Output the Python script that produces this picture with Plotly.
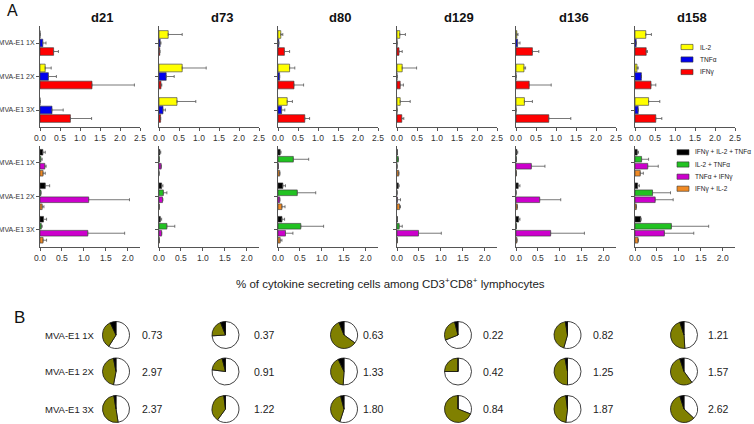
import plotly.graph_objects as go

# ---------------- data ----------------
days = ["d21", "d73", "d80", "d129", "d136", "d158"]
groups = ["MVA-E1 1X", "MVA-E1 2X", "MVA-E1 3X"]

# Panel A, top row: single-cytokine producing cells (mean, SD) per day; groups 1X, 2X, 3X
il2_mean = [[0.00, 0.13, 0.00], [0.23, 0.58, 0.45], [0.07, 0.29, 0.23],
            [0.07, 0.13, 0.08], [0.02, 0.20, 0.21], [0.27, 0.05, 0.34]]
il2_sd = [[0.00, 0.15, 0.00], [0.35, 0.60, 0.47], [0.05, 0.13, 0.13],
          [0.14, 0.36, 0.25], [0.03, 0.04, 0.20], [0.14, 0.03, 0.28]]
tnf_mean = [[0.07, 0.21, 0.30], [0.03, 0.18, 0.10], [0.02, 0.04, 0.09],
            [0.00, 0.00, 0.00], [0.04, 0.00, 0.00], [0.03, 0.16, 0.08]]
tnf_sd = [[0.08, 0.20, 0.28], [0.02, 0.20, 0.06], [0.00, 0.00, 0.08],
          [0.00, 0.00, 0.00], [0.06, 0.00, 0.00], [0.00, 0.00, 0.00]]
ifn_mean = [[0.34, 1.30, 0.76], [0.02, 0.05, 0.04], [0.16, 0.40, 0.67],
            [0.05, 0.08, 0.12], [0.41, 0.33, 0.82], [0.28, 0.40, 0.52]]
ifn_sd = [[0.12, 1.06, 0.53], [0.00, 0.02, 0.00], [0.13, 0.24, 0.12],
          [0.08, 0.08, 0.05], [0.16, 0.55, 0.55], [0.03, 0.12, 0.15]]

# Panel A, bottom row: multi-cytokine producing cells (mean, SD)
tri_mean = [[0.065, 0.12, 0.08], [0.02, 0.06, 0.03], [0.05, 0.11, 0.09],
            [0.01, 0.03, 0.01], [0.02, 0.05, 0.06], [0.05, 0.06, 0.13]]
tri_sd = [[0.055, 0.10, 0.07], [0.02, 0.03, 0.03], [0.02, 0.06, 0.06],
          [0.00, 0.02, 0.00], [0.02, 0.04, 0.03], [0.03, 0.04, 0.01]]
il2tnf_mean = [[0.02, 0.02, 0.03], [0.01, 0.10, 0.18], [0.35, 0.44, 0.52],
               [0.03, 0.00, 0.05], [0.01, 0.00, 0.01], [0.15, 0.40, 0.83]]
il2tnf_sd = [[0.03, 0.00, 0.02], [0.00, 0.08, 0.18], [0.35, 0.42, 0.52],
             [0.00, 0.00, 0.07], [0.00, 0.00, 0.00], [0.16, 0.41, 0.85]]
tnfifn_mean = [[0.11, 1.11, 1.09], [0.05, 0.08, 0.06], [0.01, 0.04, 0.17],
               [0.00, 0.01, 0.49], [0.35, 0.54, 0.79], [0.29, 0.46, 0.67]]
tnfifn_sd = [[0.03, 0.93, 0.84], [0.00, 0.01, 0.00], [0.00, 0.00, 0.17],
             [0.00, 0.07, 0.52], [0.31, 0.48, 0.77], [0.24, 0.41, 0.67]]
ifnil2_mean = [[0.07, 0.05, 0.07], [0.00, 0.01, 0.01], [0.04, 0.09, 0.05],
               [0.04, 0.06, 0.01], [0.01, 0.03, 0.02], [0.12, 0.03, 0.07]]
ifnil2_sd = [[0.05, 0.04, 0.08], [0.00, 0.00, 0.00], [0.00, 0.07, 0.04],
             [0.00, 0.02, 0.00], [0.00, 0.00, 0.00], [0.07, 0.00, 0.01]]

# Panel B: pie fractions [3 cytokines, 2 cytokines] per day / group, and total responses
pie_three = [[0.07, 0.03, 0.025], [0.06, 0.04, 0.02], [0.06, 0.07, 0.04],
             [0.04, 0.00, 0.00], [0.025, 0.03, 0.02], [0.05, 0.05, 0.05]]
pie_two = [[0.34, 0.44, 0.50], [0.20, 0.19, 0.38], [0.59, 0.42, 0.41],
           [0.27, 0.25, 0.69], [0.43, 0.47, 0.46], [0.46, 0.55, 0.58]]
totals = [[0.73, 2.97, 2.37], [0.37, 0.91, 1.22], [0.63, 1.33, 1.80],
          [0.22, 0.42, 0.84], [0.82, 1.25, 1.87], [1.21, 1.57, 2.62]]

# ---------------- layout helpers ----------------
W, H = 754, 424
FONT = "Liberation Sans, Arial, sans-serif"
panel_x0 = [40, 159, 278, 397, 516, 635]
PW = 100
top_rows = (26.25, 126.75)
bot_rows = (146, 246.5)


def xd(a, b):
    return [a / W, b / W]


def yd(top, bottom):
    return [1 - bottom / H, 1 - top / H]


def label(text, x, y, size, xanchor="center", color="#222"):
    return dict(text=text, x=x / W, y=1 - y / H, xref="paper", yref="paper",
                xanchor=xanchor, yanchor="middle", showarrow=False,
                font=dict(size=size, color=color))


top_series = [("IL-2", il2_mean, il2_sd, "#FFFF00"),
              ("TNFα", tnf_mean, tnf_sd, "#0000EE"),
              ("IFNγ", ifn_mean, ifn_sd, "#FF0000")]
bot_series = [("IFNγ + IL-2 + TNFα", tri_mean, tri_sd, "#000000"),
              ("IL-2 + TNFα", il2tnf_mean, il2tnf_sd, "#22C222"),
              ("TNFα + IFNγ", tnfifn_mean, tnfifn_sd, "#CC00CC"),
              ("IFNγ + IL-2", ifnil2_mean, ifnil2_sd, "#F08A24")]
top_w, top_off = 0.23, [-0.369, -0.115, 0.139]
bot_w, bot_off = 0.17, [-0.398, -0.189, 0.019, 0.228]

fig = go.Figure()
layout = dict(width=W, height=H, margin=dict(l=0, r=0, t=0, b=0, autoexpand=False),
              paper_bgcolor="white", plot_bgcolor="white", showlegend=False,
              barmode="overlay", font=dict(family=FONT, color="#222"))

for row in range(2):
    series = top_series if row == 0 else bot_series
    widthb = top_w if row == 0 else bot_w
    offs = top_off if row == 0 else bot_off
    rows = top_rows if row == 0 else bot_rows
    xmax = 2.5 if row == 0 else 2.28
    ticks = [0, 0.5, 1.0, 1.5, 2.0, 2.5] if row == 0 else [0, 0.5, 1.0, 1.5, 2.0]
    for c in range(6):
        k = row * 6 + c + 1
        for s, (name, mean, sd, col) in enumerate(series):
            fig.add_trace(go.Bar(
                x=mean[c], y=groups, orientation="h", name=name,
                xaxis=f"x{k}", yaxis=f"y{k}", width=widthb, offset=offs[s],
                marker=dict(color=col, line=dict(color="#333", width=0.6)),
                error_x=dict(type="data", array=sd[c], arrayminus=[0] * 3,
                             symmetric=False, color="#555", thickness=0.8, width=1.5),
                showlegend=False, hoverinfo="x+name"))
        layout[f"xaxis{k}"] = dict(
            domain=xd(panel_x0[c], panel_x0[c] + PW), anchor=f"y{k}",
            range=[0, xmax], tickvals=ticks, tickformat=".1f", automargin=False,
            showline=True, linecolor="#555", linewidth=1, ticks="outside",
            ticklen=3, tickcolor="#555", tickfont=dict(size=8.5, color="#333"),
            showgrid=False, zeroline=False, fixedrange=True)
        layout[f"yaxis{k}"] = dict(
            domain=yd(*rows), anchor=f"x{k}", type="category", automargin=False,
            categoryarray=groups, categoryorder="array", range=[2.5, -0.5],
            showline=True, linecolor="#555", linewidth=1, ticks="outside",
            ticklen=3, tickcolor="#555", showticklabels=(c == 0),
            tickfont=dict(size=7, color="#333"), showgrid=False,
            zeroline=False, fixedrange=True)

annotations = []
shapes = []

# legends (drawn as swatches + labels)
legend_specs = [(top_series, 681, 698, [47, 59.5, 72]),
                (bot_series, 677, 693, [152.3, 164.5, 176.7, 188.7])]
for series, sx, tx, ys in legend_specs:
    for (name, _m, _s, col), yy in zip(series, ys):
        shapes.append(dict(type="rect", xref="paper", yref="paper",
                           x0=sx / W, x1=(sx + 12) / W,
                           y0=1 - (yy + 2.6) / H, y1=1 - (yy - 2.6) / H,
                           fillcolor=col, line=dict(color="#333", width=0.6)))
        annotations.append(label(name, tx, yy, 6.5, xanchor="left"))

title_cx = [102, 222, 340, 459, 574, 692]
for c, d in enumerate(days):
    annotations.append(label(f"<b>{d}</b>", title_cx[c], 17, 13, color="#111"))
annotations.append(label("A", 12, 10, 16, color="#111"))
annotations.append(label("B", 19, 317, 17, color="#111"))
annotations.append(label(
    "% of cytokine secreting cells among CD3<sup>+</sup>CD8<sup>+</sup> lymphocytes",
    390, 283, 11.5))

# Panel B pies (drawn clockwise from 12 o'clock: single, double, triple so that the
# triple-cytokine slice sits just left of 12 o'clock as in the original)
pie_cx = [116, 225.5, 344, 458, 567.5, 684]
pie_cy = [335, 371.5, 409]
num_x = [140, 252, 361, 481, 591, 706]
D = 27
for c in range(6):
    for g in range(3):
        three = pie_three[c][g]
        two = pie_two[c][g]
        fig.add_trace(go.Pie(
            values=[1 - three - two, two, three], sort=False,
            direction="clockwise", rotation=0,
            marker=dict(colors=["#FFFFFF", "#808000", "#000000"],
                        line=dict(color="#111", width=0.8)),
            textinfo="none", hoverinfo="none", showlegend=False,
            domain=dict(x=xd(pie_cx[c] - D / 2, pie_cx[c] + D / 2),
                        y=yd(pie_cy[g] - D / 2, pie_cy[g] + D / 2))))
        annotations.append(label(f"{totals[c][g]:.2f}", num_x[c], pie_cy[g], 10.5,
                                 xanchor="left"))
for g in range(3):
    annotations.append(label(groups[g], 43, pie_cy[g], 9.5, xanchor="left"))

layout["annotations"] = annotations
layout["shapes"] = shapes
fig.update_layout(**layout)
fig.write_html("out.html", config={"displayModeBar": False},
               post_script="document.body.style.margin='0px';document.body.style.overflow='hidden';")
